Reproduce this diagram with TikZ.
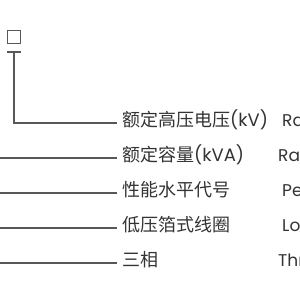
\documentclass[tikz,border=0pt]{standalone}
\usepackage{fontspec}
\setmainfont{Noto Sans CJK SC}
\newfontfamily\lat{Poppins}
\definecolor{linegray}{HTML}{585858}
\definecolor{textgray}{HTML}{333333}
\begin{document}
\begin{tikzpicture}[x=1pt,y=-1pt,
  lead/.style={draw=linegray,line width=1.8pt},
  cn/.style={anchor=west,inner xsep=5pt,inner ysep=0pt,text=textgray,
    font=\fontsize{18}{20}\selectfont,text height=0.88em,text depth=0.12em},
  en/.style={anchor=west,inner sep=0pt,text=textgray,
    font=\lat\fontsize{17}{20}\selectfont,text height=0.88em,text depth=0.12em}]
\path[use as bounding box,clip] (0,0) rectangle (300,300);
% box
\node[draw=linegray,line width=1.8pt,minimum size=13pt,inner sep=0pt] (sq) at (14,37) {};
% T bar
\coordinate (tl) at (7.3,52.3);
\coordinate (tr) at (20.7,52.3);
\coordinate (tm) at (14,52.3);
\draw[lead] (tl) -- (tr);
% labels
\node[cn] (l1) at (117,123) {额定高压电压{\lat(kV)}};
\node[cn] (l2) at (117,158) {额定容量{\lat(kVA)}};
\node[cn] (l3) at (117,193) {性能水平代号};
\node[cn] (l4) at (117,228) {低压箔式线圈};
\node[cn] (l5) at (117,263) {三相};
\node[en] (e1) at (282,123) {Rated high voltage (kV)};
\node[en] (e2) at (278,158) {Rated capacity (kVA)};
\node[en] (e3) at (282,193) {Performance level code};
\node[en] (e4) at (282,228) {Low-voltage foil winding};
\node[en] (e5) at (278,263) {Three-phase};
% free ends
\coordinate (s2) at (0,158);
\coordinate (s3) at (0,193);
\coordinate (s4) at (0,228);
\coordinate (s5) at (0,263);
\draw[lead] (tm) |- (l1.west);
\draw[lead] (s2) -- (l2.west);
\draw[lead] (s3) -- (l3.west);
\draw[lead] (s4) -- (l4.west);
\draw[lead] (s5) -- (l5.west);
\end{tikzpicture}
\end{document}
